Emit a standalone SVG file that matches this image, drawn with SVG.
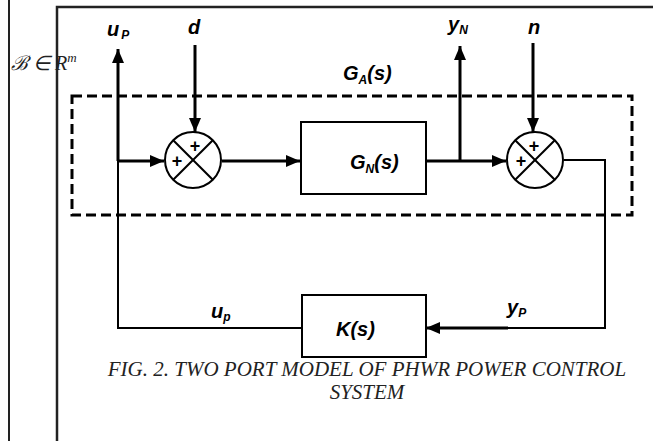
<svg xmlns="http://www.w3.org/2000/svg" width="653" height="441" viewBox="0 0 653 441">
<style>
.lbl{font-family:"Liberation Sans",Arial,sans-serif;font-weight:bold;font-style:italic;font-size:20px;fill:#000}
.sub{font-size:12px}
.cap{font-family:"Liberation Serif","Times New Roman",serif;font-style:italic;font-size:21px;fill:#222}
.thick{stroke:#000;stroke-width:3;fill:none}
.thin{stroke:#000;stroke-width:2;fill:none}
.box{stroke:#000;stroke-width:2;fill:#fff}
.plus{font-family:"Liberation Sans",Arial,sans-serif;font-weight:bold;font-size:18px;fill:#000}
</style>
<defs>
<marker id="ah" markerWidth="14" markerHeight="12" refX="14" refY="6" orient="auto" markerUnits="userSpaceOnUse">
<path d="M0,0 L14,6 L0,12 Z" fill="#000"/>
</marker>
</defs>
<rect width="653" height="441" fill="#fff"/>
<g id="frame">
<line x1="9" y1="0" x2="9" y2="441" stroke="#222" stroke-width="2"/>
<polyline points="57,441 57,7 653,7" fill="none" stroke="#222" stroke-width="2.5"/>
<text x="11" y="70" font-family="Liberation Serif,serif" font-style="italic" font-size="20" fill="#222">ℬ ∈ R<tspan font-size="13" dy="-8">m</tspan></text>
</g>
<g id="GA">
<rect x="72" y="96" width="560" height="119" fill="none" stroke="#000" stroke-width="3" stroke-dasharray="10,5"/>
<text class="lbl" x="343" y="80">G<tspan class="sub" dy="4">A</tspan><tspan dy="-4">(s)</tspan></text>
</g>
<g id="connectors">
<line class="thick" x1="118" y1="161" x2="118" y2="49" marker-end="url(#ah)"/>
<line class="thick" x1="118" y1="161" x2="164" y2="161" marker-end="url(#ah)"/>
<line class="thick" x1="195" y1="45" x2="195" y2="132" marker-end="url(#ah)"/>
<line class="thick" x1="222" y1="161" x2="300" y2="161" marker-end="url(#ah)"/>
<line class="thick" x1="426" y1="161" x2="506" y2="161" marker-end="url(#ah)"/>
<line class="thick" x1="460" y1="161" x2="460" y2="46" marker-end="url(#ah)"/>
<line class="thick" x1="533" y1="43" x2="533" y2="132" marker-end="url(#ah)"/>
<polyline class="thin" points="564,160 605,160 605,328 507,328"/>
<line class="thick" x1="508" y1="328" x2="426" y2="328" marker-end="url(#ah)"/>
<polyline class="thin" points="118,160 118,328 302,328"/>
</g>
<g id="sum1">
<circle cx="193" cy="160" r="28" class="box"/>
<line x1="173.2" y1="140.2" x2="212.8" y2="179.8" class="thin"/>
<line x1="212.8" y1="140.2" x2="173.2" y2="179.8" class="thin"/>
<text class="plus" x="195" y="152" text-anchor="middle">+</text>
<text class="plus" x="177" y="167" text-anchor="middle">+</text>
</g>
<g id="sum2">
<circle cx="535" cy="160" r="28" class="box"/>
<line x1="515.2" y1="140.2" x2="554.8" y2="179.8" class="thin"/>
<line x1="554.8" y1="140.2" x2="515.2" y2="179.8" class="thin"/>
<text class="plus" x="534" y="152" text-anchor="middle">+</text>
<text class="plus" x="521" y="167" text-anchor="middle">+</text>
</g>
<g id="GN">
<rect x="301" y="122" width="125" height="72" class="box"/>
<text class="lbl" x="350" y="169">G<tspan class="sub" dy="4">N</tspan><tspan dy="-4">(s)</tspan></text>
</g>
<g id="K">
<rect x="302" y="295" width="124" height="62" class="box"/>
<text class="lbl" x="336" y="336">K(s)</text>
</g>
<g id="labels">
<text class="lbl" x="107" y="36">u<tspan class="sub" dy="3" dx="2">P</tspan></text>
<text class="lbl" x="188" y="34">d</text>
<text class="lbl" x="448" y="31">y<tspan class="sub" dy="3">N</tspan></text>
<text class="lbl" x="528" y="34">n</text>
<text class="lbl" x="211" y="318">u<tspan class="sub" dy="3">p</tspan></text>
<text class="lbl" x="507" y="314">y<tspan class="sub" dy="3">P</tspan></text>
</g>
<g id="caption">
<text class="cap" x="367" y="376" text-anchor="middle">FIG. 2. TWO PORT MODEL OF PHWR POWER CONTROL</text>
<text class="cap" x="367" y="399" text-anchor="middle">SYSTEM</text>
</g>
</svg>
